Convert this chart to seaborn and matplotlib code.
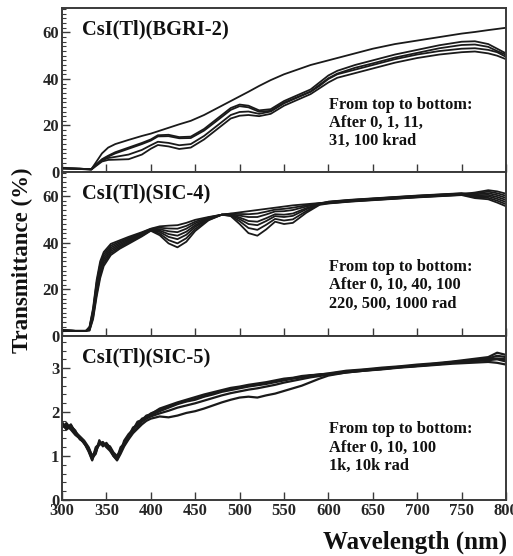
import numpy as np
import pandas as pd
import matplotlib
matplotlib.use("Agg")
import matplotlib.pyplot as plt
from matplotlib.ticker import MultipleLocator
import seaborn as sns

# ---------------- data ----------------
# Panel 1: CsI(Tl)(BGRI-2), doses in krad
wl1 = [300, 320, 333, 338, 345, 352, 360, 375, 390, 400, 408, 420, 432, 445, 460, 475, 490,
       500, 510, 522, 535, 550, 565, 580, 590, 600, 610, 630, 650, 675, 700, 725, 750, 765,
       780, 790, 800]
bgri_0 = [1.6, 1.4, 1.2, 4.0, 8.0, 10.5, 12.0, 13.8, 15.5, 16.5, 17.5, 19.0, 20.5, 22.0, 24.5,
          27.5, 30.5, 32.5, 34.5, 37.0, 39.5, 42.0, 44.0, 46.0, 47.0, 48.0, 49.0, 51.0, 53.0,
          55.0, 56.5, 58.0, 59.5, 60.2, 61.0, 61.5, 62.0]
bgri_1 = [1.6, 1.4, 1.2, 3.0, 5.5, 7.0, 8.5, 10.5, 12.5, 14.0, 15.8, 16.0, 15.0, 15.2, 18.5,
          23.0, 27.5, 29.0, 28.5, 26.5, 27.0, 30.5, 33.0, 35.5, 38.5, 41.5, 43.5, 46.0, 48.0,
          50.5, 52.5, 54.5, 56.0, 56.2, 55.0, 53.0, 51.0]
bgri_11 = [1.6, 1.4, 1.2, 2.9, 5.2, 6.6, 8.0, 10.0, 12.0, 13.5, 15.3, 15.4, 14.5, 14.6, 17.8,
           22.2, 26.7, 28.3, 27.8, 25.9, 26.3, 29.8, 32.2, 34.6, 37.5, 40.3, 42.3, 44.8, 46.7,
           49.2, 51.2, 53.2, 54.6, 54.8, 53.8, 52.0, 50.4]
bgri_31 = [1.6, 1.4, 1.1, 2.8, 5.0, 6.0, 6.5, 7.5, 9.5, 11.5, 13.0, 12.5, 11.5, 12.0, 15.5,
           20.0, 24.5, 25.8, 26.0, 25.0, 26.0, 29.5, 32.0, 34.5, 37.0, 40.0, 42.0, 44.0, 46.0,
           48.5, 50.5, 52.0, 53.0, 53.2, 52.5, 51.5, 49.5]
bgri_100 = [1.6, 1.3, 1.0, 2.5, 4.5, 5.2, 5.3, 5.5, 7.5, 10.0, 11.6, 11.0, 9.9, 10.5, 14.0,
            18.5, 23.0, 24.2, 24.5, 24.0, 25.0, 28.5, 31.0, 33.5, 36.0, 38.5, 40.5, 42.5, 44.5,
            47.0, 49.0, 50.5, 51.5, 51.8, 51.0, 50.0, 48.5]

# Panel 2: CsI(Tl)(SIC-4), doses in rad
wl2 = [300, 315, 327, 331, 335, 339, 343, 347, 355, 365, 375, 390, 400, 410, 420, 430, 440,
       450, 465, 480, 490, 500, 510, 520, 530, 540, 550, 560, 575, 590, 600, 625, 650, 675,
       700, 725, 750, 765, 780, 790, 800]
sic4_0 = [2.4, 2.2, 2.2, 4.0, 12.0, 24.0, 32.0, 36.0, 39.5, 41.0, 42.5, 44.5, 46.0, 47.0, 47.3,
          47.5, 48.5, 49.8, 51.0, 52.0, 52.5, 53.0, 53.5, 54.0, 54.5, 55.0, 55.5, 56.0, 56.5,
          57.0, 57.2, 58.0, 58.6, 59.2, 59.8, 60.3, 60.8, 61.5, 62.5, 62.0, 61.0]
sic4_10 = [2.4, 2.2, 2.2, 3.7, 11.2, 22.8, 30.8, 35.0, 38.7, 40.4, 42.0, 44.2, 45.9, 46.4, 46.1,
           46.0, 47.2, 49.0, 50.8, 52.0, 52.4, 52.3, 52.2, 52.5, 53.3, 54.2, 54.5, 55.0, 56.0,
           56.9, 57.5, 58.3, 58.9, 59.5, 60.1, 60.6, 61.1, 61.1, 61.9, 61.2, 60.1]
sic4_40 = [2.4, 2.2, 2.2, 3.4, 10.4, 21.6, 29.6, 34.0, 37.9, 39.8, 41.5, 43.9, 45.7, 45.8, 44.9,
           44.5, 46.0, 48.3, 50.5, 52.0, 52.2, 51.6, 51.0, 51.0, 52.1, 53.4, 53.5, 54.0, 55.5,
           56.8, 57.0, 57.8, 58.4, 59.0, 59.6, 60.1, 60.6, 60.7, 61.2, 60.4, 59.2]
sic4_100 = [2.4, 2.2, 2.2, 3.1, 9.6, 20.4, 28.4, 33.0, 37.1, 39.2, 41.0, 43.6, 45.5, 45.2, 43.7,
            43.0, 44.7, 47.5, 50.3, 52.0, 52.0, 50.8, 49.3, 49.0, 50.5, 52.2, 52.0, 52.5, 54.8,
            56.6, 57.6, 58.4, 59.0, 59.6, 60.2, 60.7, 61.2, 60.3, 60.5, 59.6, 58.3]
sic4_220 = [2.4, 2.2, 2.2, 2.8, 8.8, 19.2, 27.2, 32.0, 36.3, 38.6, 40.5, 43.3, 45.4, 44.6, 42.5,
            41.5, 43.4, 46.8, 50.1, 52.0, 51.9, 50.1, 48.0, 47.5, 49.3, 51.4, 51.0, 51.5, 54.3,
            56.5, 56.9, 57.7, 58.3, 58.9, 59.5, 60.0, 60.5, 59.9, 59.9, 58.8, 57.4]
sic4_500 = [2.4, 2.2, 2.2, 2.5, 8.0, 18.0, 26.0, 31.0, 35.5, 38.0, 40.0, 43.0, 45.3, 43.9, 41.1,
            39.7, 41.9, 45.9, 49.8, 52.0, 51.6, 49.2, 46.3, 45.5, 47.7, 50.2, 49.5, 50.0, 53.5,
            56.4, 57.4, 58.2, 58.8, 59.4, 60.0, 60.5, 61.0, 59.5, 59.2, 58.0, 56.5]
sic4_1000 = [2.4, 2.2, 2.2, 2.3, 7.2, 16.8, 24.8, 30.0, 34.7, 37.4, 39.5, 42.7, 45.1, 43.2, 39.7,
             38.0, 40.4, 45.0, 49.6, 52.0, 51.4, 48.0, 44.1, 43.0, 45.7, 49.0, 48.0, 48.5, 52.8,
             56.2, 56.8, 57.6, 58.2, 58.8, 59.4, 59.9, 60.4, 59.1, 58.6, 57.2, 55.6]

# Panel 3: CsI(Tl)(SIC-5), doses in rad
wl3 = [300, 305, 310, 315, 320, 325, 330, 334, 338, 342, 346, 350, 354, 358, 362, 366, 370,
       375, 380, 385, 390, 395, 400, 410, 420, 430, 440, 450, 460, 470, 480, 490, 500, 510,
       520, 530, 540, 550, 560, 570, 580, 590, 600, 620, 640, 660, 680, 700, 720, 740, 760,
       780, 790, 800]
sic5_0 = [1.72, 1.65, 1.70, 1.55, 1.45, 1.35, 1.20, 1.00, 1.12, 1.32, 1.25, 1.28, 1.20, 1.05,
          0.98, 1.15, 1.30, 1.45, 1.65, 1.70, 1.85, 1.88, 1.97, 2.05, 2.12, 2.20, 2.25, 2.30,
          2.36, 2.42, 2.48, 2.52, 2.56, 2.60, 2.62, 2.66, 2.70, 2.74, 2.77, 2.80, 2.83, 2.86,
          2.87, 2.92, 2.96, 2.99, 3.03, 3.06, 3.10, 3.13, 3.18, 3.22, 3.28, 3.25]
sic5_10 = [1.65, 1.75, 1.62, 1.50, 1.40, 1.30, 1.12, 0.92, 1.20, 1.28, 1.32, 1.22, 1.15, 1.00,
           0.92, 1.10, 1.35, 1.50, 1.60, 1.78, 1.82, 1.92, 1.95, 2.08, 2.15, 2.22, 2.28, 2.34,
           2.40, 2.45, 2.50, 2.55, 2.58, 2.62, 2.65, 2.68, 2.72, 2.76, 2.78, 2.82, 2.84, 2.85,
           2.88, 2.94, 2.97, 3.01, 3.04, 3.08, 3.11, 3.15, 3.20, 3.25, 3.35, 3.30]
sic5_100 = [1.78, 1.60, 1.68, 1.58, 1.38, 1.32, 1.15, 0.95, 1.05, 1.36, 1.22, 1.30, 1.18, 1.02,
            0.95, 1.20, 1.28, 1.40, 1.62, 1.72, 1.80, 1.90, 1.93, 2.02, 2.10, 2.18, 2.24, 2.28,
            2.35, 2.40, 2.46, 2.50, 2.54, 2.58, 2.61, 2.64, 2.68, 2.72, 2.76, 2.79, 2.82, 2.84,
            2.86, 2.91, 2.95, 2.98, 3.02, 3.05, 3.09, 3.14, 3.17, 3.20, 3.22, 3.20]
sic5_1k = [1.70, 1.62, 1.72, 1.52, 1.42, 1.28, 1.18, 0.98, 1.08, 1.30, 1.28, 1.25, 1.22, 1.08,
           1.00, 1.12, 1.25, 1.42, 1.55, 1.65, 1.78, 1.85, 1.90, 1.97, 2.03, 2.10, 2.15, 2.20,
           2.26, 2.32, 2.38, 2.43, 2.47, 2.51, 2.54, 2.58, 2.62, 2.67, 2.71, 2.75, 2.79, 2.82,
           2.85, 2.90, 2.94, 2.98, 3.02, 3.05, 3.08, 3.12, 3.15, 3.18, 3.20, 3.15]
sic5_10k = [1.68, 1.70, 1.60, 1.48, 1.40, 1.30, 1.10, 0.90, 1.15, 1.25, 1.30, 1.20, 1.12, 1.00,
            0.90, 1.05, 1.22, 1.38, 1.52, 1.62, 1.72, 1.80, 1.85, 1.90, 1.88, 1.92, 1.98, 2.02,
            2.08, 2.15, 2.22, 2.28, 2.33, 2.35, 2.33, 2.38, 2.42, 2.48, 2.54, 2.60, 2.68, 2.76,
            2.83, 2.90, 2.94, 2.97, 3.01, 3.04, 3.07, 3.10, 3.12, 3.14, 3.12, 3.08]

panels = [
    dict(title="CsI(Tl)(BGRI-2)", wl=wl1,
         series={"0 krad": bgri_0, "1 krad": bgri_1, "11 krad": bgri_11,
                 "31 krad": bgri_31, "100 krad": bgri_100},
         note="From top to bottom:\nAfter 0, 1, 11,\n31, 100 krad",
         ylim=(0, 70.5), yticks=[0, 20, 40, 60], ymin=2, note_y=0.46),
    dict(title="CsI(Tl)(SIC-4)", wl=wl2,
         series={"0 rad": sic4_0, "10 rad": sic4_10, "40 rad": sic4_40, "100 rad": sic4_100,
                 "220 rad": sic4_220, "500 rad": sic4_500, "1000 rad": sic4_1000},
         note="From top to bottom:\nAfter 0, 10, 40, 100\n220, 500, 1000 rad",
         ylim=(0, 70.3), yticks=[0, 20, 40, 60], ymin=2, note_y=0.47),
    dict(title="CsI(Tl)(SIC-5)", wl=wl3,
         series={"0 rad": sic5_0, "10 rad": sic5_10, "100 rad": sic5_100,
                 "1k rad": sic5_1k, "10k rad": sic5_10k},
         note="From top to bottom:\nAfter 0, 10, 100\n1k, 10k rad",
         ylim=(0, 3.73), yticks=[0, 1, 2, 3], ymin=0.2, note_y=0.48),
]

# ---------------- style ----------------
sns.set_theme(style="ticks")
plt.rcParams["font.family"] = ["Liberation Serif", "DejaVu Serif"]
plt.rcParams["font.weight"] = "bold"
plt.rcParams["axes.labelweight"] = "bold"

W, H = 513, 556
fig = plt.figure(figsize=(W / 100, H / 100), dpi=100)

left, right = 62 / W, 506 / W
tops = [8, 172, 336]
ph = 164
spine_col = "#3a3a3a"

for i, p in enumerate(panels):
    ax = fig.add_axes([left, 1 - (tops[i] + ph) / H, right - left, ph / H])
    rows = []
    for name, vals in p["series"].items():
        for w, v in zip(p["wl"], vals):
            rows.append((name, w, v))
    df = pd.DataFrame(rows, columns=["dose", "wl", "T"])
    n = len(p["series"])
    lw = 1.3 if i < 2 else 1.6
    sns.lineplot(data=df, x="wl", y="T", hue="dose", palette=["#1a1a1a"] * n,
                 estimator=None, sort=False, legend=False, linewidth=lw, ax=ax)
    ax.set_xlim(300, 800)
    ax.set_ylim(*p["ylim"])
    ax.set_yticks(p["yticks"])
    ax.yaxis.set_minor_locator(MultipleLocator(p["ymin"]))
    ax.xaxis.set_major_locator(MultipleLocator(50))
    ax.tick_params(axis="both", which="major", direction="in", length=6, width=1.0,
                   color=spine_col, labelsize=12, pad=2)
    ax.tick_params(axis="both", which="minor", direction="in", length=3, width=0.8,
                   color=spine_col)
    ax.tick_params(axis="x", which="major", pad=2)
    for lab in ax.get_yticklabels() + ax.get_xticklabels():
        lab.set_fontweight("bold")
    if i < 2:
        ax.tick_params(axis="x", labelbottom=False)
    ax.set_xlabel("")
    ax.set_ylabel("")
    for s in ax.spines.values():
        s.set_color(spine_col)
        s.set_linewidth(1.4)
        s.set_visible(True)
    ax.text(0.045, 0.93, p["title"], transform=ax.transAxes, ha="left", va="top",
            fontsize=14.8, fontweight="bold", color="#111111")
    ax.text(0.602, p["note_y"], p["note"], transform=ax.transAxes, ha="left", va="top",
            fontsize=11.8, fontweight="bold", color="#111111", linespacing=1.2)

fig.text(22 / W, 1 - 260 / H, "Transmittance (%)", rotation=90, ha="center", va="center",
         fontsize=16.5, fontweight="bold", color="#111111")
fig.text(507 / W, 1 - 542 / H, "Wavelength (nm)", ha="right", va="center",
         fontsize=18, fontweight="bold", color="#111111")

fig.savefig("out.png", dpi=100)
